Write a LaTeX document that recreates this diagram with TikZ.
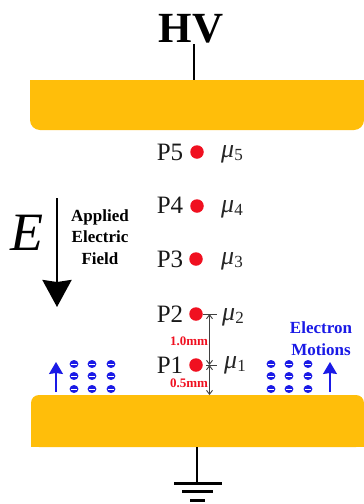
\documentclass[tikz,border=0pt]{standalone}
\usepackage{fontspec}
\setmainfont{Liberation Serif}
\usetikzlibrary{arrows.meta,calc}
\definecolor{plate}{HTML}{FFBE0A}
\definecolor{ered}{HTML}{F01020}
\definecolor{eblue}{HTML}{1A1AE6}
\definecolor{dimc}{HTML}{404040}
\tikzset{
  platefill/.style={fill=plate,draw=none},
  ptlabel/.style={anchor=base,inner sep=0pt,font=\fontsize{25}{25}\selectfont,text=black!90},
  mulabel/.style={anchor=base west,inner sep=0pt,font=\fontsize{26}{26}\selectfont,text=black!85},
  dot/.style={circle,fill=ered,draw=none,minimum size=13.5pt,inner sep=0pt},
  wire/.style={line width=2.2pt,black},
  gbar/.style={line width=3pt,black},
  dimline/.style={line width=0.9pt,dimc,{Straight Barb[length=4pt,width=6pt]}-{Straight Barb[length=4pt,width=6pt]}},
  tick/.style={line width=0.9pt,dimc},
  fieldarrow/.style={line width=2.8pt,black,-{Stealth[length=27pt,width=29pt,inset=2pt]}},
  bluearrow/.style={line width=1.1pt,eblue,-{Stealth[length=12pt,width=14pt,inset=1pt]}},
  redlabel/.style={inner sep=0pt,text=ered,font=\bfseries\fontsize{13}{13}\selectfont},
  boldlabel/.style={inner sep=0pt,align=center,font=\bfseries\fontsize{17}{21.5}\selectfont},
}
\newcommand{\mylabel}[1]{{\itshape μ}\raisebox{-3pt}{\fontsize{17}{17}\selectfont #1}}
\begin{document}
\begin{tikzpicture}[x=1pt,y=-1pt]
\useasboundingbox (0,0) rectangle (364,504);
\fill[white] (0,0) rectangle (364,504);
% plates
\path[platefill,rounded corners=10pt] (30,80) -- (364,80) -- (364,130) -- (30,130) -- cycle;
\fill[plate] (30,80) rectangle (364,100);
\path[platefill,rounded corners=8pt] (31,447) -- (31,395) -- (364,395) -- (364,447) -- cycle;
\fill[plate] (31,420) rectangle (364,447);
% HV
\node[anchor=base,inner sep=0pt,font=\bfseries\fontsize{43}{43}\selectfont] (hv) at (191,42) {HV};
\coordinate (hvend) at (194,44);
\coordinate (hvplate) at (194,80);
\draw[wire] (hvend) -- (hvplate);
% points
\foreach \n/\x/\y/\b/\mx/\m in {5/197/152/160/221/157,4/197/206/213/221/212,3/196/259/267/221/264,2/196/314/322/222/320,1/196/365/373/224/368}{
  \node[dot] (d\n) at (\x,\y) {};
  \node[ptlabel] (p\n) at (170,\b) {P\n};
  \node[mulabel] (m\n) at (\mx,\m) {\mylabel{\n}};
}
% dimension
\coordinate (t2a) at (203,314); \coordinate (t2b) at (217,314);
\coordinate (t1a) at (206,365); \coordinate (t1b) at (217,365);
\coordinate (d2) at (209.5,314); \coordinate (d1) at (209.5,365); \coordinate (d0) at (209.5,395);
\draw[tick] (t2a) -- (t2b);
\draw[tick] (t1a) -- (t1b);
\draw[dimline] (d2) -- (d1);
\draw[dimline] (d1) -- (d0);
\node[redlabel] (l10) at (189,341) {1.0mm};
\node[redlabel] (l05) at (189,383) {0.5mm};
% field
\node[anchor=center,inner sep=0pt,font=\itshape\fontsize{54}{54}\selectfont] (E) at (27,233) {E};
\coordinate (fa) at (57,198); \coordinate (fb) at (57,307);
\draw[fieldarrow] (fa) -- (fb);
\node[boldlabel] (app) at (100,237) {Applied\\Electric\\Field};
% electrons
\foreach \x in {74,92,111,271,289,308}{
  \foreach \y in {364,376,389}{
    \fill[eblue] (\x,\y) ellipse (4.4pt and 4pt);
    \draw[white,line width=1pt] (\x-3,\y) -- (\x+3,\y);
  }
}
\coordinate (ba1) at (56,392); \coordinate (ba2) at (56,362);
\coordinate (bb1) at (330,392); \coordinate (bb2) at (330,362);
\draw[bluearrow] (ba1) -- (ba2);
\draw[bluearrow] (bb1) -- (bb2);
\node[boldlabel,text=eblue] (mot) at (321,338.5) {Electron\\Motions};
% ground
\coordinate (g0) at (197,447); \coordinate (g1) at (197,483);
\draw[wire] (g0) -- (g1);
\coordinate (g1a) at (174,483); \coordinate (g1b) at (222,483);
\coordinate (g2a) at (182,491); \coordinate (g2b) at (213,491);
\coordinate (g3a) at (190,500); \coordinate (g3b) at (205,500);
\draw[gbar] (g1a) -- (g1b);
\draw[gbar] (g2a) -- (g2b);
\draw[gbar] (g3a) -- (g3b);
\end{tikzpicture}
\end{document}
